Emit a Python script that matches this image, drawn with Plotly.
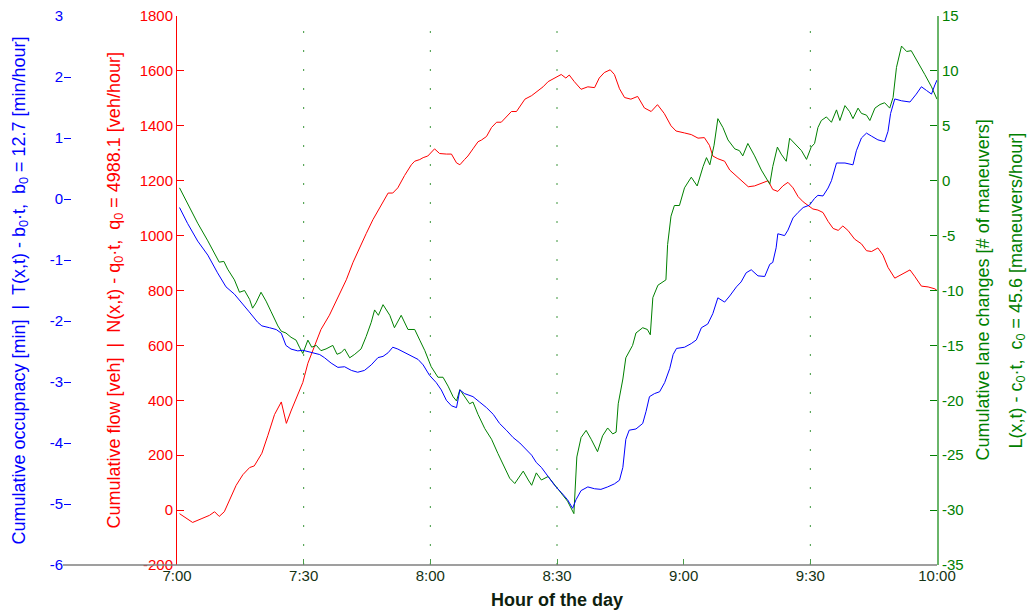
import plotly.graph_objects as go

# Time axis: minutes after 7:00, converted to decimal hours for plotting
red_min = [0.6, 3.7, 5.7, 7.7, 8.9, 10.0, 11.2, 12.4, 14.0, 15.6, 17.2, 18.3, 20.1, 21.5, 23.1, 24.7,
           25.9, 27.0, 28.6, 29.8, 31.0, 32.6, 34.1, 36.1, 37.3, 38.5, 40.1, 41.7, 43.2, 44.8, 46.4, 48.0,
           49.2, 50.0, 51.1, 52.3, 53.9, 55.5, 56.3, 57.5, 58.3, 59.4, 61.0, 62.2, 63.8, 65.0, 66.2, 67.0,
           68.1, 68.9, 70.1, 71.3, 72.1, 73.3, 74.5, 75.7, 76.8, 78.0, 79.2, 80.4, 81.6, 82.4, 84.0, 85.5,
           86.7, 87.9, 89.5, 91.0, 92.1, 92.9, 94.1, 95.7, 97.3, 98.9, 100.0, 101.2, 102.6, 103.6, 104.8,
           106.0, 107.5, 109.1, 110.7, 112.3, 113.8, 115.4, 117.0, 118.2, 120.2, 121.8, 123.4, 124.9,
           126.1, 126.9, 128.1, 129.7, 130.9, 132.1, 133.7, 135.3, 136.8, 138.4, 140.0, 141.1, 142.3,
           143.5, 144.7, 145.9, 147.1, 148.3, 149.4, 150.6, 151.8, 153.0, 154.2, 155.4, 156.6, 157.7,
           158.9, 160.5, 162.1, 163.3, 164.5, 166.0, 167.2, 168.4, 170.0, 171.6, 173.6, 174.7, 176.3,
           177.9, 179.5, 180.0]
red_flow = [-13, -45, -32, -19, -6, -23, -6, 33, 90, 129, 155, 161, 207, 271, 348, 394,
            316, 361, 419, 465, 535, 600, 658, 710, 748, 787, 839, 903, 955, 1007, 1058, 1103,
            1136, 1155, 1155, 1174, 1219, 1258, 1271, 1277, 1284, 1290, 1316, 1299, 1297, 1297, 1265, 1258,
            1277, 1290, 1316, 1342, 1348, 1361, 1394, 1413, 1413, 1432, 1452, 1452, 1477, 1497, 1510, 1529,
            1542, 1561, 1574, 1587, 1574, 1585, 1561, 1533, 1542, 1539, 1574, 1594, 1604, 1587, 1535,
            1503, 1497, 1507, 1465, 1452, 1477, 1445, 1400, 1381, 1374, 1368, 1355, 1357,
            1329, 1290, 1280, 1271, 1239, 1223, 1200, 1178, 1181, 1190, 1200, 1168, 1161,
            1181, 1194, 1174, 1142, 1123, 1110, 1097, 1093, 1084, 1052, 1026, 1019, 1035,
            1019, 987, 970, 945, 942, 955, 929, 884, 845, 858, 875, 852, 816,
            813, 806, 800]

blue_min = [0.6, 2.5, 4.9, 7.3, 9.6, 11.6, 13.6, 15.2, 17.1, 19.1, 20.1, 21.9, 23.5, 24.7, 25.8, 27.0,
            28.6, 29.8, 31.0, 32.6, 33.8, 34.9, 36.5, 38.1, 39.7, 41.3, 42.8, 44.4, 46.0, 47.6, 48.8, 50.0,
            51.1, 52.3, 53.9, 55.5, 57.1, 58.3, 59.8, 61.4, 62.6, 63.8, 65.0, 66.2, 67.0, 68.1, 70.1, 71.7,
            73.3, 74.9, 76.4, 78.0, 79.6, 81.2, 82.4, 84.0, 85.1, 86.3, 87.9, 89.5, 91.0, 92.5, 93.7, 94.5,
            95.7, 97.3, 98.9, 100.4, 102.0, 103.6, 104.8, 105.6, 106.3, 107.1, 108.7, 110.3, 111.1, 111.9,
            113.1, 114.3, 115.5, 116.7, 117.5, 118.3, 120.2, 121.8, 123.0, 124.2, 125.7, 126.9, 128.1,
            129.7, 130.9, 132.5, 133.6, 134.8, 136.0, 137.6, 139.2, 140.4, 141.1, 141.9, 142.3, 143.9,
            144.7, 145.9, 147.1, 148.3, 149.8, 151.0, 151.8, 153.0, 154.2, 155.0, 156.2, 158.2, 160.1,
            160.9, 162.1, 163.3, 164.5, 166.0, 167.6, 168.4, 169.0, 170.0, 171.6, 173.6, 175.1, 176.3,
            177.5, 178.7, 179.5, 180.0]
blue_occ = [-0.14, -0.40, -0.69, -0.92, -1.21, -1.44, -1.56, -1.70, -1.85, -2.02, -2.08, -2.11, -2.14, -2.20, -2.40, -2.46,
            -2.49, -2.48, -2.50, -2.53, -2.55, -2.60, -2.69, -2.76, -2.75, -2.81, -2.84, -2.81, -2.72, -2.60, -2.58, -2.52,
            -2.43, -2.46, -2.52, -2.58, -2.63, -2.72, -2.89, -3.01, -3.13, -3.30, -3.39, -3.42, -3.13, -3.19, -3.24, -3.33,
            -3.42, -3.53, -3.68, -3.79, -3.91, -4.00, -4.09, -4.20, -4.32, -4.40, -4.55, -4.70, -4.81, -4.93, -5.07, -4.93,
            -4.78, -4.72, -4.75, -4.76, -4.72, -4.67, -4.61, -4.40, -3.94, -3.79, -3.77, -3.68, -3.48, -3.24,
            -3.19, -3.16, -3.01, -2.78, -2.55, -2.45, -2.43, -2.37, -2.31, -2.11, -2.05, -1.88, -1.62,
            -1.69, -1.59, -1.44, -1.36, -1.21, -1.16, -1.26, -1.27, -1.07, -1.04, -0.80, -0.57, -0.60,
            -0.51, -0.31, -0.22, -0.14, -0.10, 0.01, 0.06, 0.05, 0.18, 0.30, 0.59, 0.59, 0.56,
            0.79, 1.00, 1.08, 1.03, 0.97, 0.94, 1.11, 1.40, 1.64, 1.61, 1.59, 1.72, 1.84,
            1.78, 1.72, 1.87, 1.95]

green_min = [0.6, 2.5, 4.9, 7.3, 9.2, 10.0, 11.1, 12.0, 13.6, 14.8, 16.0, 17.2, 17.9, 18.7, 19.9, 21.1,
             22.3, 23.9, 24.7, 25.8, 27.0, 28.2, 29.0, 29.8, 31.0, 31.9, 33.0, 34.1, 35.3, 36.9, 37.9, 38.9,
             39.7, 40.9, 42.1, 43.6, 44.8, 46.0, 46.8, 47.7, 48.8, 50.4, 51.5, 53.1, 54.7, 56.3, 57.5, 58.7,
             60.2, 61.8, 63.0, 64.2, 65.4, 66.2, 67.0, 68.1, 69.3, 70.1, 71.3, 72.9, 74.5, 76.0, 77.6, 78.8,
             80.0, 81.2, 82.0, 83.2, 84.0, 85.1, 86.3, 87.9, 89.5, 91.0, 92.5, 94.0, 94.3, 94.7, 95.7, 96.9,
             98.1, 99.6, 100.8, 102.0, 103.2, 104.0, 104.5, 105.6, 106.3, 107.9, 108.7, 110.3, 111.4, 112.1,
             112.7, 113.9, 115.8, 116.2, 117.0, 117.8, 119.0, 120.2, 121.8, 123.2, 124.6, 125.4, 126.2,
             127.2, 128.1, 129.3, 130.5, 132.1, 133.2, 134.0, 135.2, 136.8, 138.4, 140.4, 141.1, 142.2,
             143.1, 144.3, 145.1, 146.3, 147.9, 149.1, 150.2, 151.0, 151.8, 152.6, 153.8, 155.0, 156.2,
             157.0, 158.2, 159.3, 160.1, 161.3, 162.1, 163.3, 164.1, 165.3, 166.5, 167.6, 168.8, 169.6,
             170.4, 171.6, 172.8, 173.9, 175.5, 177.1, 178.7, 180.0]
green_lc = [-0.65, -2.10, -3.87, -5.48, -6.94, -7.42, -7.35, -8.06, -9.03, -10.16, -10.0, -10.81, -11.61, -11.13, -10.16, -10.97,
            -11.94, -13.23, -13.71, -13.87, -14.26, -14.52, -15.16, -15.74, -14.52, -15.16, -15.0, -15.48, -15.32, -15.0, -15.81, -15.65,
            -15.32, -16.13, -15.81, -15.32, -14.19, -12.90, -11.77, -12.26, -11.29, -12.26, -13.39, -12.26, -13.55, -13.55, -14.52, -15.48,
            -16.94, -17.90, -17.90, -18.71, -19.68, -20.06, -19.03, -19.68, -20.32, -20.16, -21.29, -22.58, -23.55, -24.84, -26.13, -27.10,
            -27.58, -26.94, -26.45, -27.26, -27.74, -26.61, -27.26, -26.94, -27.74, -28.39, -29.19, -30.32, -28.39, -25.16, -23.39, -22.74,
            -23.55, -24.68, -23.23, -22.52, -23.06, -22.90, -20.32, -18.06, -16.13, -15.0, -13.87, -13.39, -13.55, -14.03,
            -10.65, -9.52, -9.03, -5.81, -3.23, -2.26, -2.26, -0.65, 0.32, -0.48, 1.29, 2.10, 1.45,
            3.23, 5.65, 4.84, 3.71, 2.90, 2.74, 2.26, 3.39, 2.26, 0.97, -0.32, 1.29, 3.06,
            2.42, 1.77, 3.87, 3.39, 2.74, 1.94, 3.06, 3.39, 4.84, 5.48, 5.81, 5.32, 6.45,
            5.48, 6.84, 6.29, 5.65, 6.61, 6.13, 5.97, 5.48, 6.61, 6.94, 7.10, 6.61, 7.58,
            10.32, 12.26, 11.77, 11.84, 10.81, 9.68, 8.55, 7.42]

# Axis ticks
hour_ticks = [7.0, 7.5, 8.0, 8.5, 9.0, 9.5, 10.0]
hour_labels = ["7:00", "7:30", "8:00", "8:30", "9:00", "9:30", "10:00"]
grid_hours = [7.5, 8.0, 8.5, 9.5]
occ_ticks = [-6, -5, -4, -3, -2, -1, 0, 1, 2, 3]
flow_ticks = [-200, 0, 200, 400, 600, 800, 1000, 1200, 1400, 1600, 1800]
lc_ticks = [-35, -30, -25, -20, -15, -10, -5, 0, 5, 10, 15]

W, H = 1031, 611
FONT = "Liberation Sans"
RED, BLUE, GREEN = "#ff0000", "#0000ff", "#008000"

def hrs(minutes):
    return [7 + m / 60.0 for m in minutes]

def labels(vals):
    return [str(v) for v in vals]  # plain hyphen minus signs

# plot box in pixels
PL, PR, PT, PB = 177, 937, 16, 565
xdom = [PL / W, PR / W]
ydom = [(H - PB) / H, (H - PT) / H]
ymid = (ydom[0] + ydom[1]) / 2

fig = go.Figure()
fig.add_trace(go.Scatter(x=hrs(blue_min), y=blue_occ, yaxis="y3", mode="lines",
                         line=dict(color=BLUE, width=1), showlegend=False))
fig.add_trace(go.Scatter(x=hrs(red_min), y=red_flow, yaxis="y", mode="lines",
                         line=dict(color=RED, width=1), showlegend=False))
fig.add_trace(go.Scatter(x=hrs(green_min), y=green_lc, yaxis="y2", mode="lines",
                         line=dict(color=GREEN, width=1), showlegend=False))

tickfont = lambda c: dict(family=FONT, size=15, color=c)

fig.update_layout(
    width=W, height=H,
    margin=dict(l=0, r=0, t=0, b=0),
    paper_bgcolor="white", plot_bgcolor="white",
    xaxis=dict(domain=xdom, range=[7, 10], tickvals=hour_ticks, ticktext=hour_labels,
               ticks="inside", ticklen=6, tickcolor="#4a9e4a", showgrid=False, zeroline=False,
               showline=False, tickfont=tickfont("#143214"), automargin=False),
    yaxis=dict(domain=ydom, range=[-200, 1800], tickvals=flow_ticks, ticktext=labels(flow_ticks),
               ticks="inside", ticklen=7, tickcolor=RED, showline=True, linecolor=RED, linewidth=1,
               showgrid=False, zeroline=False, tickfont=tickfont(RED), automargin=False),
    yaxis2=dict(domain=ydom, range=[-35, 15], overlaying="y", side="right", anchor="x",
                tickvals=lc_ticks, ticktext=labels(lc_ticks),
                ticks="inside", ticklen=7, tickcolor=GREEN, showline=True, linecolor="#6ab56a",
                linewidth=2, showgrid=False, zeroline=False, tickfont=tickfont(GREEN), automargin=False),
    yaxis3=dict(domain=ydom, range=[-6, 3], overlaying="y", side="left", anchor="free",
                position=63 / W, tickvals=occ_ticks, ticktext=labels(occ_ticks),
                ticks="inside", ticklen=7, tickcolor=BLUE, showline=False,
                showgrid=False, zeroline=False, tickfont=tickfont(BLUE), automargin=False),
)

# dotted vertical guides
for h in grid_hours:
    fig.add_shape(type="line", xref="x", yref="paper", x0=h, x1=h, y0=ydom[0], y1=ydom[1],
                  line=dict(color="#3c963c", width=1, dash="2px,17px"), layer="below")

# bottom axis line, running under both left axes
fig.add_shape(type="line", xref="paper", yref="paper", x0=63 / W, x1=PR / W,
              y0=ydom[0], y1=ydom[0], line=dict(color="#7f7f7f", width=1.5))

title_font = lambda c: dict(family=FONT, size=18, color=c)
annots = [
    dict(x=20 / W, y=ymid, textangle=-90, font=title_font(BLUE),
         text="Cumulative occupnacy [min]  |  T(x,t) - b<sub>0</sub>·t,  b<sub>0</sub> = 12.7 [min/hour]"),
    dict(x=115 / W, y=ymid, textangle=-90, font=title_font(RED),
         text="Cumulative flow [veh]  |  N(x,t) - q<sub>0</sub>·t,  q<sub>0</sub> = 4988.1 [veh/hour]"),
    dict(x=982 / W, y=ymid, textangle=-90, font=title_font(GREEN),
         text="Cumulative lane changes [# of maneuvers]"),
    dict(x=1017 / W, y=ymid, textangle=-90, font=title_font(GREEN),
         text="L(x,t) - c<sub>0</sub>·t,  c<sub>0</sub> = 45.6 [maneuvers/hour]"),
    dict(x=(PL + PR) / 2 / W, y=(H - 600) / H, textangle=0,
         font=dict(family=FONT, size=18, color="#0f1f0f"), text="<b>Hour of the day</b>"),
]
for a in annots:
    fig.add_annotation(xref="paper", yref="paper", showarrow=False,
                       xanchor="center", yanchor="middle", **a)

fig.write_html("out.html")
